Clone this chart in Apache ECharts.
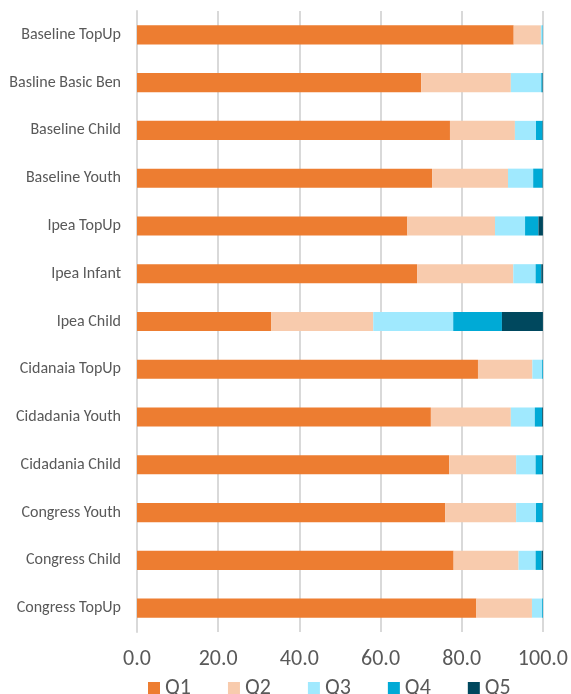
<!DOCTYPE html>
<html><head><meta charset="utf-8">
<script src="https://cdn.jsdelivr.net/npm/echarts@6/dist/echarts.min.js"></script>
<style>html,body{margin:0;padding:0;background:#fff}#c{width:571px;height:694px}</style>
</head><body><div id="c"></div>
<script>
const categories = ["Baseline TopUp","Basline Basic Ben","Baseline Child","Baseline Youth","Ipea TopUp","Ipea Infant","Ipea Child","Cidanaia TopUp","Cidadania Youth","Cidadania Child","Congress Youth","Congress Child","Congress TopUp"];
const q1 = [92.8,70.0,77.1,72.7,66.6,69.0,33.1,84.0,72.4,76.9,75.9,78.0,83.6];
const q2 = [6.7,22.1,16.0,18.7,21.6,23.7,25.1,13.4,19.7,16.5,17.5,16.0,13.7];
const q3 = [0.4,7.5,5.2,6.2,7.4,5.5,19.7,2.4,5.9,4.8,4.9,4.2,2.5];
const q4 = [0.1,0.3,1.6,2.3,3.3,1.4,12.0,0.2,1.8,1.6,1.6,1.5,0.2];
const q5 = [0.0,0.1,0.1,0.1,1.1,0.4,10.1,0.0,0.2,0.2,0.1,0.3,0.0];
const xTicks = [0,20,40,60,80,100];
const seriesNames = ["Q1","Q2","Q3","Q4","Q5"];
const colors = ["#ED7D31","#F8CBAD","#A0E9FE","#00AAD6","#00485E"];
const font = "Calibri, Carlito, 'Open Sans', sans-serif";
const chart = echarts.init(document.getElementById('c'), null, {renderer:'canvas'});
const data = [q1,q2,q3,q4,q5];
chart.setOption({
  animation:false,
  textStyle:{fontFamily:font},
  grid:{left:137,right:27,top:11,bottom:62,containLabel:false},
  legend:{top:672,left:143,itemWidth:12,itemHeight:12,itemGap:37,icon:'rect',
    textStyle:{fontSize:22,color:'#595959',fontFamily:font},data:seriesNames},
  xAxis:{type:'value',min:xTicks[0],max:xTicks[xTicks.length-1],interval:20,
    axisLabel:{formatter:v=>v.toFixed(1),fontSize:22,color:'#595959',margin:16,fontFamily:font},
    splitLine:{show:true,lineStyle:{color:'#D9D9D9',width:2}},
    axisLine:{show:false},axisTick:{show:false}},
  yAxis:{type:'category',data:categories,inverse:true,
    axisLabel:{fontSize:16,color:'#595959',margin:16,fontFamily:font},
    axisLine:{show:true,lineStyle:{color:'#D9D9D9',width:2}},axisTick:{show:false}},
  series:seriesNames.map((n,i)=>({name:n,type:'bar',stack:'all',data:data[i],
    barCategoryGap:'60%',itemStyle:{color:colors[i]}}))
});
</script></body></html>
